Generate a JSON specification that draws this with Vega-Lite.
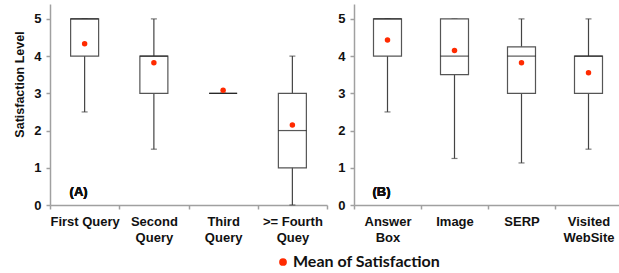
{
  "$schema": "https://vega.github.io/schema/vega-lite/v6.json",
  "padding": {"left": 13, "top": 4, "right": 0, "bottom": 0},
  "background": "white",
  "datasets": {
    "boxA": [
      {"cat": "First Query", "low": 2.5, "q1": 4, "median": 5, "q3": 5, "high": 5, "mean": 4.33},
      {"cat": "Second Query", "low": 1.5, "q1": 3, "median": 4, "q3": 4, "high": 5, "mean": 3.82},
      {"cat": "Third Query", "low": 3, "q1": 3, "median": 3, "q3": 3, "high": 3, "mean": 3.08},
      {"cat": ">= Fourth Quey", "low": 0, "q1": 1, "median": 2, "q3": 3, "high": 4, "mean": 2.15}
    ],
    "boxB": [
      {"cat": "Answer Box", "low": 2.5, "q1": 4, "median": 5, "q3": 5, "high": 5, "mean": 4.43},
      {"cat": "Image", "low": 1.25, "q1": 3.5, "median": 4, "q3": 5, "high": 5, "mean": 4.15},
      {"cat": "SERP", "low": 1.13, "q1": 3, "median": 4, "q3": 4.25, "high": 5, "mean": 3.82},
      {"cat": "Visited WebSite", "low": 1.5, "q1": 3, "median": 4, "q3": 4, "high": 5, "mean": 3.55}
    ]
  },
  "config": {
    "view": {"stroke": null},
    "font": "Liberation Sans",
    "axis": {
      "grid": false,
      "domainColor": "#a0a0a0",
      "domainWidth": 1.5,
      "tickColor": "#a0a0a0",
      "tickWidth": 1.5,
      "tickSize": 4,
      "labelFont": "Liberation Sans",
      "labelFontWeight": "bold",
      "labelFontSize": 13,
      "labelColor": "#111111",
      "titleFont": "Liberation Sans",
      "titleFontWeight": "bold",
      "titleFontSize": 12.5,
      "titleColor": "#111111"
    },
    "legend": {
      "labelFont": "Lato",
      "labelFontWeight": "bold",
      "labelFontSize": 16,
      "labelColor": "#111111"
    }
  },
  "spacing": 9,
  "resolve": {"scale": {"color": "shared"}},
  "hconcat": [
    {
      "width": 277,
      "height": 201,
      "data": {"name": "boxA"},
      "encoding": {
        "x": {
          "field": "cat", "type": "nominal", "sort": null,
          "scale": {"paddingInner": 0, "paddingOuter": 0},
          "axis": {
            "title": null, "labelAngle": 0, "tickBand": "extent",
            "labelPadding": 6, "labelLineHeight": 16,
            "labelExpr": "datum.label == 'First Query' ? datum.label : (datum.label == '>= Fourth Quey' ? ['>= Fourth', 'Quey'] : split(datum.label, ' '))"
          }
        }
      },
      "layer": [
        {
          "mark": {"type": "rule", "color": "#444444", "strokeWidth": 1.2},
          "encoding": {
            "y": {"field": "low", "type": "quantitative",
              "scale": {"domain": [0, 5.4], "nice": false},
              "axis": {"title": "Satisfaction Level", "values": [0, 1, 2, 3, 4, 5], "labelPadding": 5, "titlePadding": 7, "titleY": 80}},
            "y2": {"field": "high"}
          }
        },
        {
          "mark": {"type": "tick", "color": "#444444", "size": 6, "thickness": 1.2},
          "encoding": {"y": {"field": "low", "type": "quantitative"}}
        },
        {
          "mark": {"type": "tick", "color": "#444444", "size": 6, "thickness": 1.2},
          "encoding": {"y": {"field": "high", "type": "quantitative"}}
        },
        {
          "mark": {"type": "bar", "width": 28, "fill": "white", "stroke": "#555555", "strokeWidth": 1.2},
          "encoding": {"y": {"field": "q1", "type": "quantitative"}, "y2": {"field": "q3"}}
        },
        {
          "mark": {"type": "tick", "color": "#111111", "size": 28, "thickness": 1.2},
          "encoding": {"y": {"field": "median", "type": "quantitative"}}
        },
        {
          "mark": {"type": "point", "filled": true, "size": 30, "opacity": 1},
          "encoding": {
            "y": {"field": "mean", "type": "quantitative"},
            "color": {"datum": "Mean of Satisfaction", "type": "nominal",
              "scale": {"range": ["#ff2a00"]},
              "legend": {"title": null, "orient": "none", "legendX": 225, "legendY": 250, "symbolSize": 60, "labelOffset": 2}}
          }
        },
        {
          "mark": {"type": "text", "text": "(A)", "font": "Liberation Sans", "fontWeight": "bold", "fontSize": 13, "color": "#111111", "dx": -6, "baseline": "middle"},
          "encoding": {"x": {"datum": "First Query"}, "y": {"datum": 0.35, "type": "quantitative"}}
        }
      ]
    },
    {
      "width": 268,
      "height": 201,
      "data": {"name": "boxB"},
      "encoding": {
        "x": {
          "field": "cat", "type": "nominal", "sort": null,
          "scale": {"paddingInner": 0, "paddingOuter": 0},
          "axis": {
            "title": null, "labelAngle": 0, "tickBand": "extent",
            "labelPadding": 6, "labelLineHeight": 16,
            "labelExpr": "split(datum.label, ' ')"
          }
        }
      },
      "layer": [
        {
          "mark": {"type": "rule", "color": "#444444", "strokeWidth": 1.2},
          "encoding": {
            "y": {"field": "low", "type": "quantitative",
              "scale": {"domain": [0, 5.4], "nice": false},
              "axis": {"title": null, "values": [0, 1, 2, 3, 4, 5], "labelPadding": 5}},
            "y2": {"field": "high"}
          }
        },
        {
          "mark": {"type": "tick", "color": "#444444", "size": 6, "thickness": 1.2},
          "encoding": {"y": {"field": "low", "type": "quantitative"}}
        },
        {
          "mark": {"type": "tick", "color": "#444444", "size": 6, "thickness": 1.2},
          "encoding": {"y": {"field": "high", "type": "quantitative"}}
        },
        {
          "mark": {"type": "bar", "width": 28, "fill": "white", "stroke": "#555555", "strokeWidth": 1.2},
          "encoding": {"y": {"field": "q1", "type": "quantitative"}, "y2": {"field": "q3"}}
        },
        {
          "mark": {"type": "tick", "color": "#111111", "size": 28, "thickness": 1.2},
          "encoding": {"y": {"field": "median", "type": "quantitative"}}
        },
        {
          "mark": {"type": "point", "filled": true, "size": 30, "opacity": 1},
          "encoding": {
            "y": {"field": "mean", "type": "quantitative"},
            "color": {"datum": "Mean of Satisfaction", "type": "nominal"}
          }
        },
        {
          "mark": {"type": "text", "text": "(B)", "font": "Liberation Sans", "fontWeight": "bold", "fontSize": 13, "color": "#111111", "dx": -6, "baseline": "middle"},
          "encoding": {"x": {"datum": "Answer Box"}, "y": {"datum": 0.35, "type": "quantitative"}}
        }
      ]
    }
  ]
}
